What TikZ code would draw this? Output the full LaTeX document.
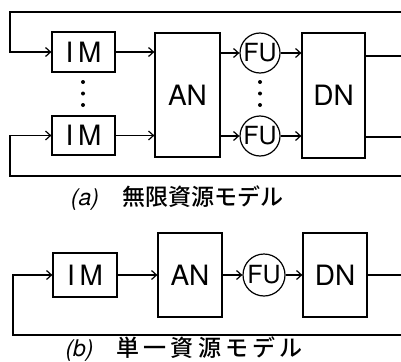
\documentclass[tikz,border=0pt]{standalone}
\usepackage{fontspec}
\setsansfont{TeX Gyre Heros}
\newfontfamily\jpfont{Noto Sans CJK JP Medium}
\newfontfamily\jpwide[LetterSpace=18]{Noto Sans CJK JP Medium}
\usetikzlibrary{arrows.meta,positioning,calc}

\begin{document}
\begin{tikzpicture}[x=1pt, y=-1pt,
    >={Straight Barb[length=5pt,width=9pt]},
    line width=1.2pt,
    unit/.style={rectangle, draw, inner sep=0pt, font=\fontsize{28}{30}\selectfont\sffamily},
    fu/.style={circle, draw, minimum size=40pt, inner sep=0pt, font=\fontsize{25}{27}\selectfont\sffamily},
    arrow/.style={->},
    caption/.style={font=\fontsize{23}{26}\selectfont},
]
\useasboundingbox (0,0) rectangle (401,361);

% (a) unlimited resources
\node[unit, minimum width=63pt, minimum height=40pt] (ima) at (83.5,52) {I\,M};
\node[unit, minimum width=63pt, minimum height=39pt] (imb) at (83.5,135.5) {I\,M};
\node[unit, minimum width=65pt, minimum height=124pt] (ana) at (187.5,95) {AN};
\node[fu] (fua) at (260,53) {FU};
\node[fu] (fub) at (260,136) {FU};
\node[unit, minimum width=63pt, minimum height=125pt] (dna) at (333.5,95.5) {DN};

\foreach \y in {82,93.5,105} {
  \fill (83,\y) circle (2pt);
  \fill (260,\y) circle (2pt);
}

\coordinate (ra) at (401,12);
\coordinate (rb) at (401,176);
\coordinate (la) at (10,0);
\coordinate (oa) at (401,56);
\coordinate (ob) at (401,137);

\draw[arrow] (ra) -- (ra -| la) |- (ima.west);
\draw[arrow] (rb) -- (rb -| la) |- (imb.west);
\draw[arrow] (ima) -- (ima -| ana.west);
\draw[arrow] (imb) -- (imb -| ana.west);
\draw[arrow] (ana.east |- fua) -- (fua);
\draw[arrow] (ana.east |- fub) -- (fub);
\draw[arrow] (fua) -- (fua -| dna.west);
\draw[arrow] (fub) -- (fub -| dna.west);
\draw (oa -| dna.east) -- (oa);
\draw (ob -| dna.east) -- (ob);

\node[caption] (capa) at (177,198) {{\sffamily\itshape (a)}\quad{\jpfont 無限資源モデル}};

% (b) single resource
\node[unit, minimum width=64pt, minimum height=44pt] (imc) at (85,275) {I\,M};
\node[unit, minimum width=64pt, minimum height=84pt] (anc) at (190,275) {AN};
\node[fu, minimum size=42pt] (fuc) at (264,275) {FU};
\node[unit, minimum width=64pt, minimum height=84pt] (dnc) at (335,275) {DN};

\coordinate (rc) at (401,335);
\coordinate (lc) at (13,0);
\coordinate (oc) at (401,275);

\draw[arrow] (rc) -- (rc -| lc) |- (imc.west);
\draw[arrow] (imc) -- (anc);
\draw[arrow] (anc) -- (fuc);
\draw[arrow] (fuc) -- (dnc);
\draw (dnc) -- (oc);

\node[caption] (capb) at (184,349) {{\sffamily\itshape (b)}\quad{\jpwide 単一資源モデル}};
\end{tikzpicture}
\end{document}
